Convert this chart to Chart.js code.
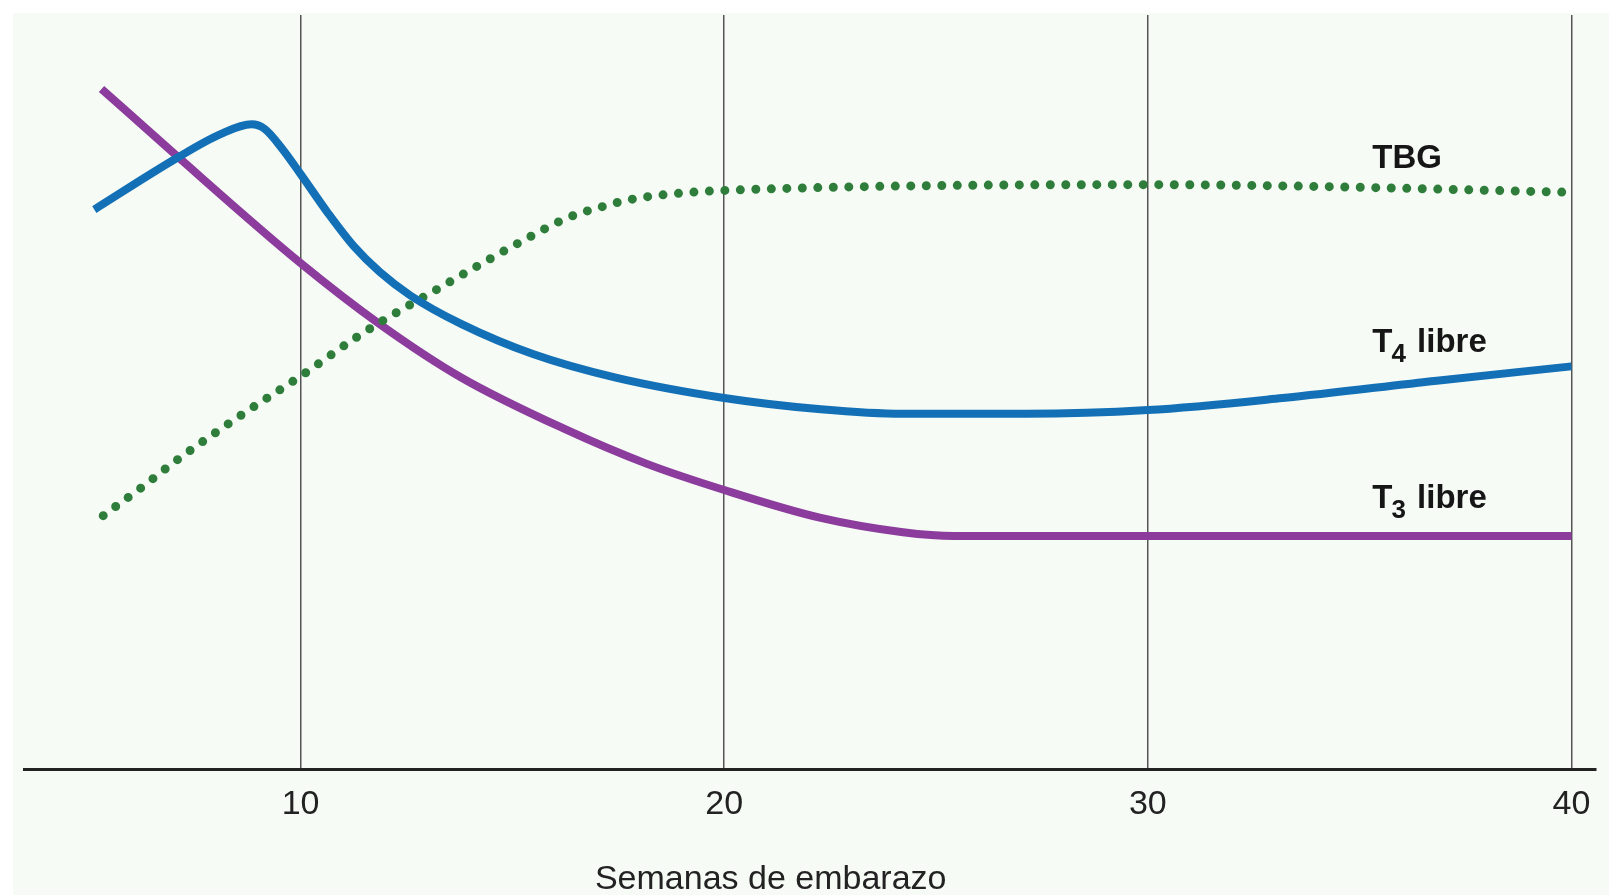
<!DOCTYPE html>
<html>
<head>
<meta charset="utf-8">
<title>Tiroides y embarazo</title>
<script src="https://cdn.jsdelivr.net/npm/chart.js@4.4.1/dist/chart.umd.min.js"></script>
<style>
  html, body { margin: 0; padding: 0; background: #ffffff; }
  #wrap { width: 1609px; height: 895px; position: relative; }
</style>
</head>
<body>
<div id="wrap"><canvas id="tiroides"></canvas></div>
<script>
// semanas en el eje x
const xTicks = [10, 20, 30, 40];
const xTitle = 'Semanas de embarazo';

// T4 libre (azul)
const t4Weeks  = [5.13, 7.07, 8.11, 8.84, 9.15, 9.56, 10, 10.65, 11.26, 11.87, 12.59, 13.8, 15.5, 17.44, 20, 22.28, 24.22, 27.13, 30, 33.18, 36.82, 40];
const t4Values = [74.2, 81.0, 84.2, 85.5, 84.9, 82.3, 78.9, 73.7, 69.3, 65.9, 62.8, 59.0, 55.0, 51.9, 49.2, 47.7, 47.1, 47.1, 47.6, 49.2, 51.5, 53.4];

// T3 libre (morado)
const t3Weeks  = [5.3, 7.02, 10, 11.87, 13.8, 16.23, 18.16, 20, 22.28, 24.22, 25.43, 40];
const t3Values = [90.2, 81.6, 67.1, 59.0, 51.9, 45.1, 40.5, 37.0, 33.3, 31.4, 30.9, 30.9];

// TBG (verde, punteada)
const tbgWeeks  = [5.34, 6.33, 6.99, 8.64, 10, 11.33, 12.04, 13.06, 14.17, 15.19, 16.3, 17.07, 17.85, 19.03, 20.3, 30.05, 33.6, 39.85];
const tbgValues = [33.6, 37.7, 40.6, 47.1, 52.1, 57.3, 59.8, 63.1, 66.7, 69.9, 73.1, 74.5, 75.6, 76.4, 76.8, 77.5, 77.3, 76.5];

function toPoints(xs, ys) {
  return xs.map((x, i) => ({ x: x, y: ys[i] }));
}

const FONT = '"Liberation Sans", Arial, Helvetica, sans-serif';

// fondo verde muy claro con borde blanco arriba y a la izquierda
const fondo = {
  id: 'fondo',
  beforeDraw(chart) {
    const ctx = chart.ctx;
    ctx.save();
    ctx.fillStyle = '#f6fbf5';
    ctx.fillRect(13, 13, chart.width - 13, chart.height - 13);
    ctx.restore();
  }
};

// etiquetas de las curvas y titulo del eje
const etiquetas = {
  id: 'etiquetas',
  afterDraw(chart) {
    const ctx = chart.ctx;
    const xs = chart.scales.x;
    const ys = chart.scales.y;
    const left = xs.getPixelForValue(35.3);

    ctx.save();
    ctx.fillStyle = '#161616';
    ctx.textBaseline = 'alphabetic';
    ctx.textAlign = 'left';

    const big = 'bold 33px ' + FONT;
    const small = 'bold 26px ' + FONT;

    ctx.font = big;
    ctx.fillText('TBG', left, ys.getPixelForValue(79.7));

    const sub = (num, val) => {
      const base = ys.getPixelForValue(val);
      ctx.font = big;
      ctx.fillText('T', left, base);
      let w = ctx.measureText('T').width - 1;
      ctx.font = small;
      ctx.fillText(num, left + w, base + 10);
      w += ctx.measureText(num).width + 2;
      ctx.font = big;
      ctx.fillText(' libre', left + w, base);
    };
    sub('4', 55.3);
    sub('3', 34.6);

    // titulo del eje x
    ctx.font = '34px ' + FONT;
    ctx.textAlign = 'center';
    ctx.fillStyle = '#222222';
    ctx.fillText(xTitle, chart.chartArea.left + 0.475 * (chart.chartArea.right - chart.chartArea.left), 889);
    ctx.restore();
  }
};

const chart1 = document.getElementById('tiroides');

new Chart(chart1, {
  type: 'line',
  data: {
    datasets: [
      {
        label: 'T4 libre',
        data: toPoints(t4Weeks, t4Values),
        borderColor: '#1470b6',
        borderWidth: 8,
        cubicInterpolationMode: 'monotone',
        pointRadius: 0,
        order: 1
      },
      {
        label: 'TBG',
        data: toPoints(tbgWeeks, tbgValues),
        borderColor: '#2f7d3a',
        borderWidth: 9,
        borderDash: [0, 15.5],
        borderCapStyle: 'round',
        cubicInterpolationMode: 'monotone',
        pointRadius: 0,
        order: 2
      },
      {
        label: 'T3 libre',
        data: toPoints(t3Weeks, t3Values),
        borderColor: '#8c3c9c',
        borderWidth: 8,
        cubicInterpolationMode: 'monotone',
        pointRadius: 0,
        order: 3
      }
    ]
  },
  options: {
    responsive: true,
    maintainAspectRatio: false,
    animation: false,
    layout: { padding: { left: 24, right: 13, top: 15, bottom: 0 } },
    plugins: {
      legend: { display: false },
      tooltip: { enabled: false }
    },
    scales: {
      x: {
        type: 'linear',
        min: 3.47,
        max: 40.58,
        afterBuildTicks: (scale) => {
          scale.ticks = xTicks.map(v => ({ value: v }));
        },
        afterFit: (scale) => { scale.height = 126; },
        grid: {
          color: '#555555',
          lineWidth: 1.5,
          drawTicks: false
        },
        border: { display: true, color: '#222222', width: 3 },
        ticks: {
          padding: 15,
          color: '#222222',
          font: { family: FONT, size: 34 },
          maxRotation: 0
        }
      },
      y: {
        display: false,
        min: 0,
        max: 100
      }
    }
  },
  plugins: [fondo, etiquetas]
});
</script>
</body>
</html>
